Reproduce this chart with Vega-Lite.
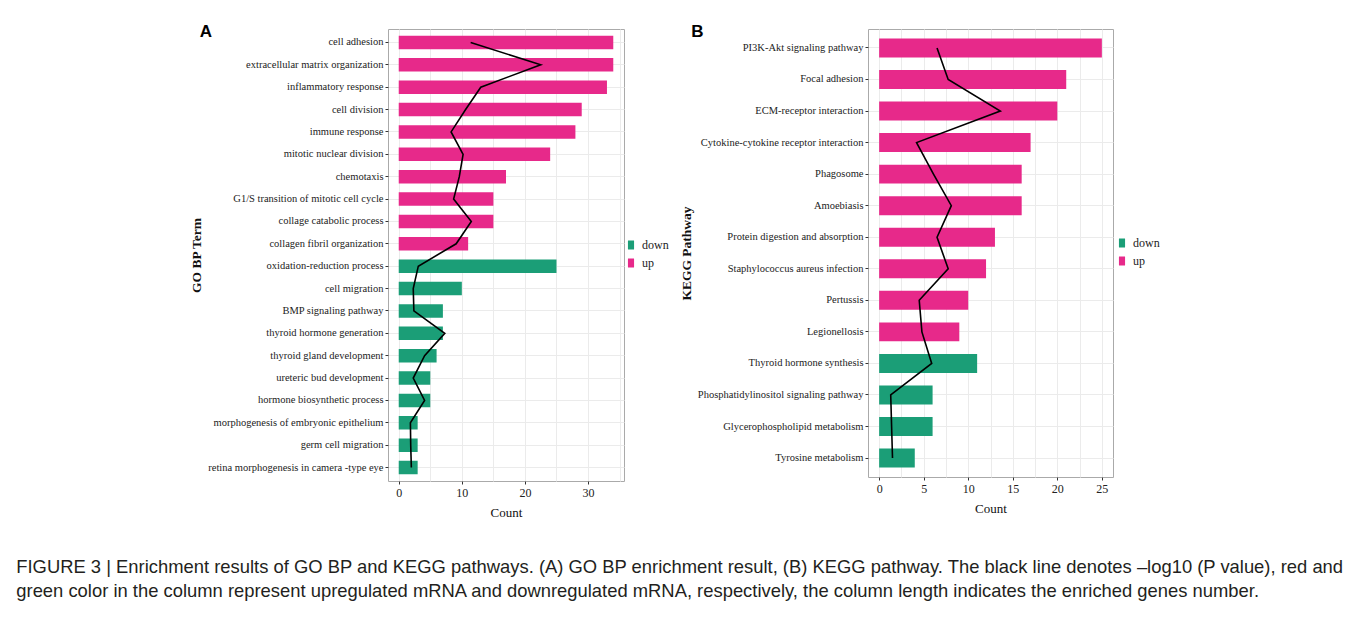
{
  "$schema": "https://vega.github.io/schema/vega-lite/v6.json",
  "background": "white",
  "autosize": {"type": "pad"},
  "padding": {"left": 16, "top": 22, "right": 5, "bottom": 5},
  "title": {
    "text": ["FIGURE 3 | Enrichment results of GO BP and KEGG pathways. (A) GO BP enrichment result, (B) KEGG pathway. The black line denotes –log10 (P value), red and", "green color in the column represent upregulated mRNA and downregulated mRNA, respectively, the column length indicates the enriched genes number."],
    "orient": "bottom",
    "anchor": "start",
    "frame": "bounds",
    "dx": -173,
    "offset": 38,
    "font": "Liberation Sans",
    "fontSize": 18.4,
    "fontWeight": "normal",
    "lineHeight": 24,
    "color": "#231f20"
  },
  "config": {
    "view": {"stroke": "#aaaaaa", "strokeWidth": 1},
    "axis": {
      "labelFont": "Liberation Serif",
      "titleFont": "Liberation Serif",
      "labelColor": "#222222",
      "titleColor": "#111111",
      "tickColor": "#333333",
      "tickSize": 3,
      "domain": false,
      "gridColor": "#ebebeb",
      "labelLimit": 0
    },
    "legend": {
      "labelFont": "Liberation Serif",
      "labelFontSize": 12,
      "labelColor": "#222222",
      "padding": 0
    }
  },
  "datasets": {
    "go": [
      {"term": "cell adhesion", "count": 34, "reg": "up", "logp": 11.4},
      {"term": "extracellular matrix organization", "count": 34, "reg": "up", "logp": 22.5},
      {"term": "inflammatory response", "count": 33, "reg": "up", "logp": 13.0},
      {"term": "cell division", "count": 29, "reg": "up", "logp": 10.6},
      {"term": "immune response", "count": 28, "reg": "up", "logp": 8.3},
      {"term": "mitotic nuclear division", "count": 24, "reg": "up", "logp": 10.2},
      {"term": "chemotaxis", "count": 17, "reg": "up", "logp": 9.6},
      {"term": "G1/S transition of mitotic cell cycle", "count": 15, "reg": "up", "logp": 8.7},
      {"term": "collage catabolic process", "count": 15, "reg": "up", "logp": 11.5},
      {"term": "collagen fibril organization", "count": 11, "reg": "up", "logp": 9.1},
      {"term": "oxidation-reduction process", "count": 25, "reg": "down", "logp": 3.1},
      {"term": "cell migration", "count": 10, "reg": "down", "logp": 2.3},
      {"term": "BMP signaling pathway", "count": 7, "reg": "down", "logp": 2.4},
      {"term": "thyroid hormone generation", "count": 7, "reg": "down", "logp": 7.3},
      {"term": "thyroid gland development", "count": 6, "reg": "down", "logp": 4.1},
      {"term": "ureteric bud development", "count": 5, "reg": "down", "logp": 2.3},
      {"term": "hormone biosynthetic process", "count": 5, "reg": "down", "logp": 4.1},
      {"term": "morphogenesis of embryonic epithelium", "count": 3, "reg": "down", "logp": 1.85},
      {"term": "germ cell migration", "count": 3, "reg": "down", "logp": 1.9},
      {"term": "retina morphogenesis in camera -type eye", "count": 3, "reg": "down", "logp": 2.0}
    ],
    "kegg": [
      {"term": "PI3K-Akt signaling pathway", "count": 25, "reg": "up", "logp": 6.5},
      {"term": "Focal adhesion", "count": 21, "reg": "up", "logp": 7.75},
      {"term": "ECM-receptor interaction", "count": 20, "reg": "up", "logp": 13.6},
      {"term": "Cytokine-cytokine receptor interaction", "count": 17, "reg": "up", "logp": 4.2},
      {"term": "Phagosome", "count": 16, "reg": "up", "logp": 6.1},
      {"term": "Amoebiasis", "count": 16, "reg": "up", "logp": 8.1},
      {"term": "Protein digestion and absorption", "count": 13, "reg": "up", "logp": 6.5},
      {"term": "Staphylococcus aureus infection", "count": 12, "reg": "up", "logp": 7.75},
      {"term": "Pertussis", "count": 10, "reg": "up", "logp": 4.5},
      {"term": "Legionellosis", "count": 9, "reg": "up", "logp": 4.8},
      {"term": "Thyroid hormone synthesis", "count": 11, "reg": "down", "logp": 5.9},
      {"term": "Phosphatidylinositol signaling pathway", "count": 6, "reg": "down", "logp": 1.3},
      {"term": "Glycerophospholipid metabolism", "count": 6, "reg": "down", "logp": 1.4},
      {"term": "Tyrosine metabolism", "count": 4, "reg": "down", "logp": 1.5}
    ]
  },
  "resolve": {"scale": {"color": "independent"}, "legend": {"color": "independent"}},
  "hconcat": [
    {
      "width": 236,
      "height": 452,
      "title": {"text": "A", "anchor": "start", "frame": "bounds", "font": "Liberation Sans", "fontSize": 17, "fontWeight": "bold", "color": "#000000", "offset": -12, "dx": 10},
      "data": {"name": "go"},
      "encoding": {
        "y": {
          "field": "term", "type": "nominal", "sort": null,
          "scale": {"paddingInner": 0.4, "paddingOuter": 0.3},
          "title": "GO BP Term",
          "axis": {"labelFontSize": 10.5, "labelPadding": 2, "grid": true, "titleFontSize": 13.5, "titleFontWeight": "bold", "titlePadding": 4}
        }
      },
      "layer": [
        {
          "mark": {"type": "bar"},
          "encoding": {
            "x": {
              "field": "count", "type": "quantitative",
              "scale": {"domain": [-1.7, 35.7], "nice": false, "zero": false},
              "title": "Count",
              "axis": {"values": [0, 10, 20, 30], "grid": false, "labelFontSize": 12, "titleFontSize": 13, "titleFontWeight": "normal", "titlePadding": 8, "labelPadding": 3}
            },
            "color": {
              "field": "reg", "type": "nominal",
              "scale": {"domain": ["down", "up"], "range": ["#1B9E77", "#E7298A"]},
              "legend": {"title": null, "orient": "none", "legendX": 234, "legendY": 207, "symbolType": "M-0.34,-0.5H0.34V0.5H-0.34Z", "symbolSize": 324, "symbolStrokeWidth": 0, "symbolOpacity": 1, "rowPadding": 3, "labelOffset": 2}
            }
          }
        },
        {
          "mark": {"type": "line", "color": "#000000", "strokeWidth": 1.6},
          "encoding": {
            "x": {
              "field": "logp", "type": "quantitative",
              "axis": {"orient": "top", "values": [0, 5, 10, 15, 20, 25, 30, 35], "grid": true, "labels": false, "ticks": false, "domain": false, "title": null}
            },
            "order": {"value": null}
          }
        }
      ],
      "resolve": {"axis": {"x": "independent"}}
    },
    {
      "width": 245,
      "height": 448,
      "title": {"text": "B", "anchor": "start", "frame": "bounds", "font": "Liberation Sans", "fontSize": 17, "fontWeight": "bold", "color": "#000000", "offset": -12, "dx": 12},
      "data": {"name": "kegg"},
      "encoding": {
        "y": {
          "field": "term", "type": "nominal", "sort": null,
          "scale": {"paddingInner": 0.4, "paddingOuter": 0.3},
          "title": "KEGG Pathway",
          "axis": {"labelFontSize": 10.5, "labelPadding": 2, "grid": true, "titleFontSize": 13.5, "titleFontWeight": "bold", "titlePadding": 4}
        }
      },
      "layer": [
        {
          "mark": {"type": "bar"},
          "encoding": {
            "x": {
              "field": "count", "type": "quantitative",
              "scale": {"domain": [-1.25, 26.25], "nice": false, "zero": false},
              "title": "Count",
              "axis": {"values": [0, 5, 10, 15, 20, 25], "grid": false, "labelFontSize": 12, "titleFontSize": 13, "titleFontWeight": "normal", "titlePadding": 8, "labelPadding": 3}
            },
            "color": {
              "field": "reg", "type": "nominal",
              "scale": {"domain": ["down", "up"], "range": ["#1B9E77", "#E7298A"]},
              "legend": {"title": null, "orient": "none", "legendX": 245, "legendY": 205, "symbolType": "M-0.34,-0.5H0.34V0.5H-0.34Z", "symbolSize": 324, "symbolStrokeWidth": 0, "symbolOpacity": 1, "rowPadding": 3, "labelOffset": 2}
            }
          }
        },
        {
          "mark": {"type": "line", "color": "#000000", "strokeWidth": 1.6},
          "encoding": {
            "x": {
              "field": "logp", "type": "quantitative",
              "axis": {"orient": "top", "values": [0, 2.5, 5, 7.5, 10, 12.5, 15, 17.5, 20, 22.5, 25], "grid": true, "labels": false, "ticks": false, "domain": false, "title": null}
            },
            "order": {"value": null}
          }
        }
      ],
      "resolve": {"axis": {"x": "independent"}}
    }
  ],
  "spacing": 8
}
